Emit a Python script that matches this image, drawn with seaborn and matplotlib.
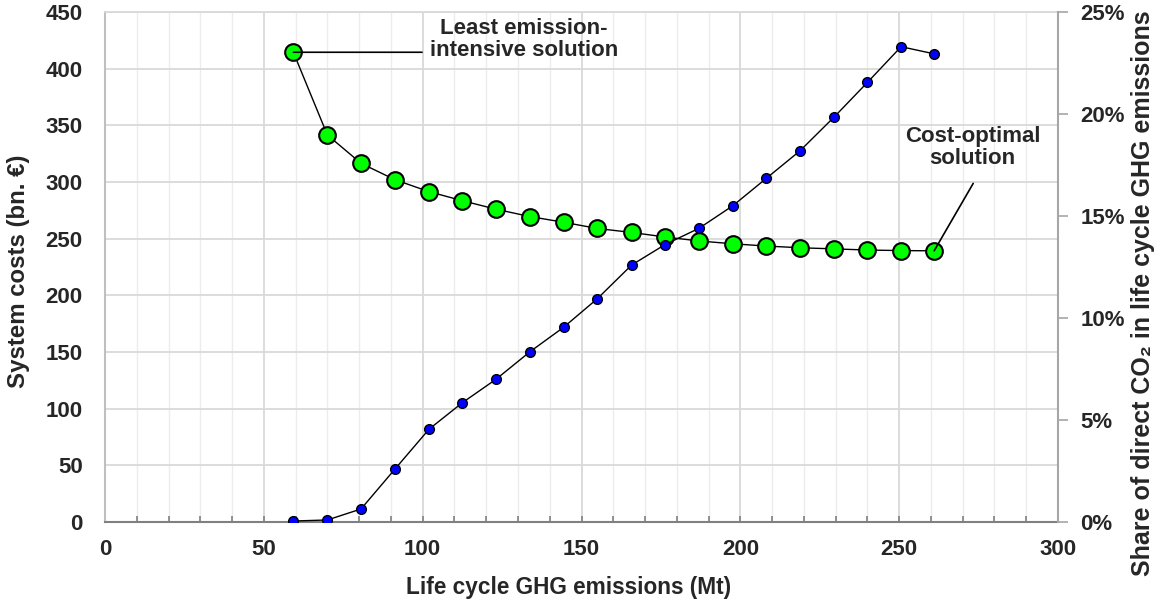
import pandas as pd
import seaborn as sns
import matplotlib.pyplot as plt
from matplotlib.ticker import MultipleLocator, PercentFormatter

# values
emissions = [59.3, 70.0, 80.6, 91.3, 102.0, 112.5, 123.1, 133.8, 144.4, 155.0,
             165.8, 176.3, 187.0, 197.6, 208.2, 218.8, 229.5, 240.0, 250.6, 261.0]
system_costs = [414.5, 341.5, 316.5, 302.0, 291.5, 283.5, 276.0, 269.5, 264.5, 259.0,
                255.5, 251.5, 248.0, 245.5, 243.5, 242.0, 241.0, 240.0, 239.5, 239.3]
co2_share = [0.05, 0.1, 0.64, 2.6, 4.55, 5.85, 7.0, 8.35, 9.55, 10.95,
             12.6, 13.6, 14.4, 15.5, 16.85, 18.2, 19.85, 21.55, 23.3, 22.95]

df = pd.DataFrame({'emissions': emissions, 'costs': system_costs, 'share': co2_share})

sns.set_theme(style="white")
plt.rcParams['font.family'] = ['Liberation Sans', 'DejaVu Sans']
plt.rcParams['font.weight'] = 'bold'
plt.rcParams['axes.labelweight'] = 'bold'

fig = plt.figure(figsize=(11.6, 6.01), dpi=100)
ax = fig.add_axes([0.0905, 0.1314, 0.8216, 0.8486])
ax2 = ax.twinx()

# kosten (gruene punkte)
sns.lineplot(data=df, x='emissions', y='costs', ax=ax, color='black', lw=1,
             marker='o', markersize=12, markerfacecolor='#00ff00',
             markeredgecolor='black', markeredgewidth=1.5, zorder=3)
# CO2-anteil (blaue punkte, rechte achse)
sns.lineplot(data=df, x='emissions', y='share', ax=ax2, color='black', lw=1,
             marker='o', markersize=7, markerfacecolor='#0000ff',
             markeredgecolor='black', markeredgewidth=1, zorder=3)

ax.set_xlim(0, 300)
ax.set_ylim(0, 450)
ax2.set_ylim(0, 25)

ax.xaxis.set_major_locator(MultipleLocator(50))
ax.xaxis.set_minor_locator(MultipleLocator(10))
ax.yaxis.set_major_locator(MultipleLocator(50))
ax2.yaxis.set_major_locator(MultipleLocator(5))
ax2.yaxis.set_major_formatter(PercentFormatter(100, decimals=0))

ax.set_axisbelow(True)
ax.grid(which='major', axis='both', color='#d9d9d9', lw=1.3)
ax.grid(which='minor', axis='x', color='#ececec', lw=1)
ax2.grid(False)

ax.tick_params(axis='x', which='both', direction='in', length=4, color='#808080',
               width=1.2, bottom=True, pad=12, labelsize=16)
ax.tick_params(axis='y', length=0, pad=16, labelsize=16)
ax2.tick_params(axis='y', direction='out', length=7, color='#a6a6a6', width=1.2,
                right=True, pad=9, labelsize=16)

for side in ['left', 'top', 'bottom']:
    ax2.spines[side].set_visible(False)
ax.spines['right'].set_visible(False)
ax.spines['bottom'].set_color('#808080')
ax.spines['bottom'].set_linewidth(1.5)
ax.spines['left'].set_color('#bfbfbf')
ax.spines['left'].set_linewidth(1.5)
ax.spines['top'].set_color('#d9d9d9')
ax.spines['top'].set_linewidth(1.3)
ax2.spines['right'].set_color('#a6a6a6')
ax2.spines['right'].set_linewidth(1.5)

ax.set_xlabel('Life cycle GHG emissions (Mt)', fontsize=16.3)
ax.xaxis.set_label_coords(0.486, -0.106)
ax.set_ylabel('System costs (bn. €)', fontsize=17.3)
ax.yaxis.set_label_coords(-0.079, 0.492)
ax2.set_ylabel('Share of direct CO₂ in life cycle GHG emissions', fontsize=18)
ax2.yaxis.set_label_coords(1.0766, 0.448)

# beschriftungen
ax.annotate('', xy=(emissions[0], system_costs[0]), xytext=(99.8, system_costs[0]),
            arrowprops=dict(arrowstyle='-', color='black', lw=1.2, shrinkA=0, shrinkB=0))
ax.text(131.9, 425.5, 'Least emission-\nintensive solution', ha='center', va='center',
        fontsize=16, fontweight='bold', linespacing=1.05)
ax.annotate('', xy=(emissions[-1], system_costs[-1]), xytext=(273.3, 298.8),
            arrowprops=dict(arrowstyle='-', color='black', lw=1.2, shrinkA=0, shrinkB=0))
ax.text(273.1, 330.5, 'Cost-optimal\nsolution', ha='center', va='center',
        fontsize=16, fontweight='bold', linespacing=1.05)

plt.savefig('out.png', dpi=100)
plt.close()
